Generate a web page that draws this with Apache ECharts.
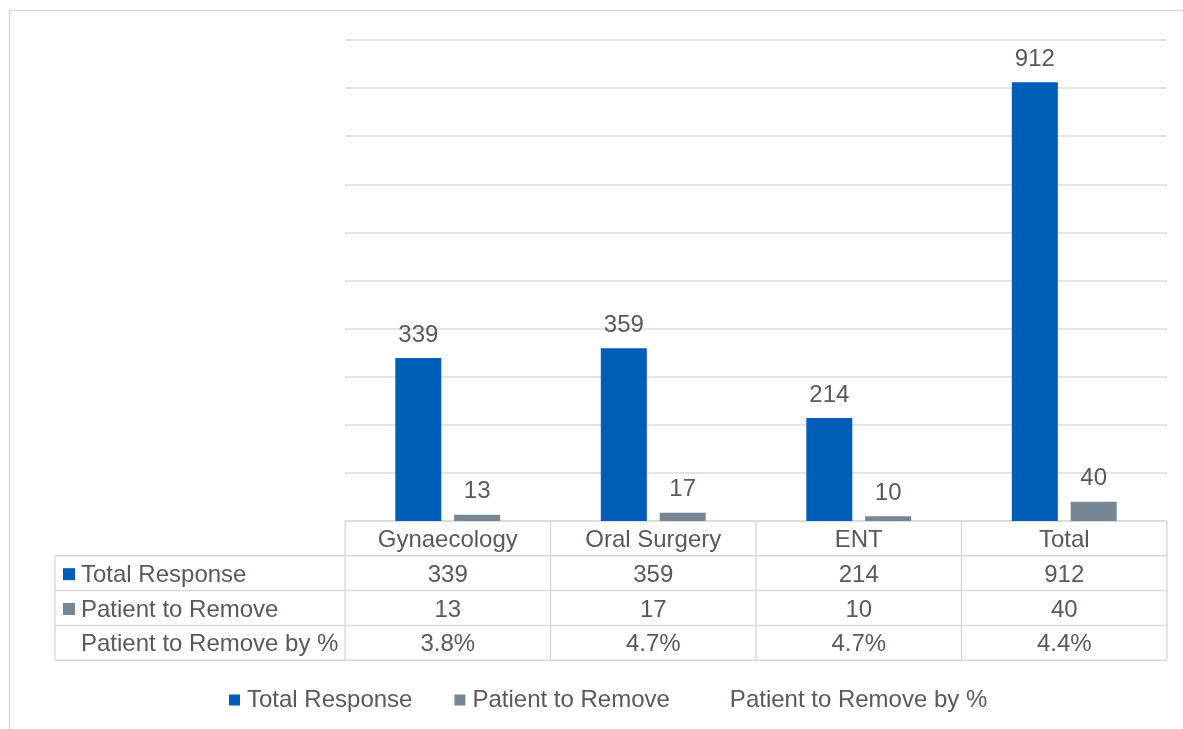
<!DOCTYPE html>
<html>
<head>
<meta charset="utf-8">
<script src="https://cdn.jsdelivr.net/npm/echarts@6/dist/echarts.min.js"></script>
<style>
  html, body { margin: 0; padding: 0; background: #fff; }
  #main { width: 1183px; height: 729px; }
</style>
</head>
<body>
<div id="main"></div>
<script>
// data
var categories = ['Gynaecology', 'Oral Surgery', 'ENT', 'Total'];
var totalResponse = [339, 359, 214, 912];
var patientToRemove = [13, 17, 10, 40];
var removePercent = [3.8, 4.7, 4.7, 4.4];
var seriesNames = ['Total Response', 'Patient to Remove', 'Patient to Remove by %'];

var blue = '#005EB8';
var grey = '#768692';
var textColor = '#5e5757';
var borderColor = '#dcd9d9';
var fontSize = 24;

// plot area in pixels
var plotLeft = 345, plotRight = 1167, plotTop = 40, plotBottom = 521;
var W = 1183, H = 729;

var myChart = echarts.init(document.getElementById('main'));

// 数据表（图表下方）
function buildTable() {
    var els = [];
    var colW = (plotRight - plotLeft) / categories.length;
    var rowH = 34.8;
    var tableLeft = 55;
    var rows = [
        { name: seriesNames[0], color: blue, values: totalResponse.map(String) },
        { name: seriesNames[1], color: grey, values: patientToRemove.map(String) },
        { name: seriesNames[2], color: null, values: removePercent.map(function (v) { return v.toFixed(1) + '%'; }) }
    ];
    var lineStyle = { stroke: borderColor, lineWidth: 1.5 };
    var bottomY = plotBottom + rowH * (rows.length + 1);
    var font = fontSize + 'px "Liberation Sans", Arial, sans-serif';
    // header row top + outline of value columns
    els.push({ type: 'line', shape: { x1: plotLeft, y1: plotBottom, x2: plotRight, y2: plotBottom }, style: lineStyle });
    for (var c = 0; c <= categories.length; c++) {
        var x = plotLeft + c * colW;
        els.push({ type: 'line', shape: { x1: x, y1: plotBottom, x2: x, y2: bottomY }, style: lineStyle });
    }
    els.push({ type: 'line', shape: { x1: tableLeft, y1: plotBottom + rowH, x2: tableLeft, y2: bottomY }, style: lineStyle });
    for (var r = 0; r < rows.length; r++) {
        var y0 = plotBottom + rowH * (r + 1);
        var y1 = y0 + rowH;
        els.push({ type: 'line', shape: { x1: tableLeft, y1: y0, x2: plotRight, y2: y0 }, style: lineStyle });
        if (r === rows.length - 1) {
            els.push({ type: 'line', shape: { x1: tableLeft, y1: y1, x2: plotRight, y2: y1 }, style: lineStyle });
        }
        var cy = (y0 + y1) / 2 + 2;
        if (rows[r].color) {
            els.push({ type: 'rect', shape: { x: 63, y: cy - 7, width: 12, height: 12 }, style: { fill: rows[r].color } });
        }
        els.push({
            type: 'text', x: 81, y: cy,
            style: { text: rows[r].name, fill: textColor, font: font, verticalAlign: 'middle', align: 'left' }
        });
        for (var k = 0; k < categories.length; k++) {
            els.push({
                type: 'text', x: plotLeft + colW * (k + 0.5), y: cy,
                style: { text: rows[r].values[k], fill: textColor, font: font, verticalAlign: 'middle', align: 'center' }
            });
        }
    }
    // outer chart border
    els.push({ type: 'rect', shape: { x: 9.5, y: 10.5, width: W + 20, height: H + 20 }, style: { fill: 'none', stroke: borderColor, lineWidth: 1.5 } });
    return els;
}

var option = {
    backgroundColor: '#fff',
    textStyle: { fontFamily: '"Liberation Sans", Arial, sans-serif', color: textColor },
    animation: false,
    grid: {
        left: plotLeft,
        right: W - plotRight,
        top: plotTop,
        bottom: H - plotBottom,
        containLabel: false
    },
    legend: {
        left: 224,
        top: 683,
        itemWidth: 11,
        itemHeight: 11,
        itemGap: 42,
        textStyle: { fontSize: fontSize, color: textColor, padding: [0, 0, 0, 2] },
        data: [
            { name: seriesNames[0], icon: 'rect' },
            { name: seriesNames[1], icon: 'rect' },
            { name: seriesNames[2], icon: 'rect', itemStyle: { color: 'rgba(0,0,0,0)', opacity: 0 }, lineStyle: { opacity: 0 } }
        ]
    },
    xAxis: {
        type: 'category',
        data: categories,
        axisLine: { show: false },
        axisTick: { show: false },
        axisLabel: { fontSize: fontSize, color: textColor, margin: 7 }
    },
    yAxis: {
        type: 'value',
        min: 0,
        max: 1000,
        interval: 100,
        axisLabel: { show: false },
        axisLine: { show: false },
        axisTick: { show: false },
        splitLine: { lineStyle: { color: borderColor, width: 1.5 } }
    },
    series: [
        {
            name: seriesNames[0],
            type: 'bar',
            data: totalResponse,
            barWidth: 46,
            barGap: '28%',
            itemStyle: { color: blue },
            label: { show: true, position: 'top', distance: 11, fontSize: fontSize, color: textColor }
        },
        {
            name: seriesNames[1],
            type: 'bar',
            data: patientToRemove,
            barWidth: 46,
            itemStyle: { color: grey },
            label: { show: true, position: 'top', distance: 11, fontSize: fontSize, color: textColor }
        },
        {
            // 百分比系列：只在表格里显示
            name: seriesNames[2],
            type: 'line',
            data: removePercent,
            showSymbol: false,
            silent: true,
            itemStyle: { color: 'rgba(0,0,0,0)' },
            lineStyle: { opacity: 0 }
        }
    ],
    graphic: buildTable()
};

myChart.setOption(option);
</script>
</body>
</html>
